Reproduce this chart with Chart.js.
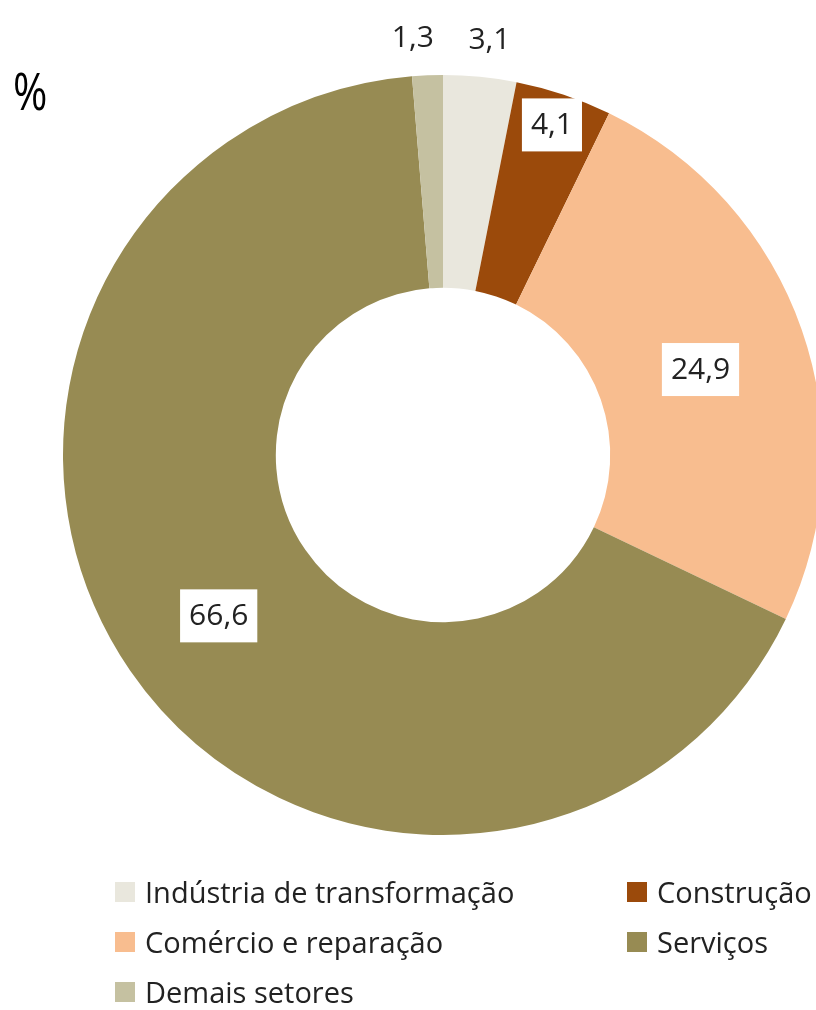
<!DOCTYPE html>
<html lang="pt">
<head>
    <meta charset="UTF-8">
    <title>Setores</title>
    <script src="https://cdn.jsdelivr.net/npm/chart.js"></script>
    <style>
        body {
            margin: 0;
            width: 816px;
            height: 1010px;
            overflow: hidden;
            position: relative;
            background: #ffffff;
            font-family: "Open Sans", "Noto Sans", sans-serif;
            color: #222;
        }

        #wrap {
            position: absolute;
            left: 0;
            top: 0;
            width: 886px;
            height: 910px;
        }

        #unit {
            position: absolute;
            left: 13px;
            top: 54px;
            font-size: 52px;
            font-weight: 400;
            color: #000;
            transform: scaleX(0.8);
            transform-origin: left top;
        }

        #legend {
            position: absolute;
            left: 115px;
            top: 874px;
            display: grid;
            grid-template-columns: 512px 220px;
            row-gap: 14px;
            font-size: 29px;
            line-height: 36px;
            color: #222;
        }

        .item {
            display: flex;
            align-items: center;
            white-space: nowrap;
        }

        .sw {
            width: 20px;
            height: 20px;
            margin-right: 10px;
        }
    </style>
</head>
<body>
    <div id="wrap"><canvas id="chart" width="886" height="910"></canvas></div>
    <div id="unit">%</div>
    <div id="legend"></div>

    <script>
        // dados
        const categorias = ['Indústria de transformação', 'Construção', 'Comércio e reparação', 'Serviços', 'Demais setores'];
        const valores = [3.1, 4.1, 24.9, 66.6, 1.3];
        const cores = ['#e9e7dd', '#9b4a0b', '#f8bd8f', '#978b53', '#c5c1a1'];

        // onde fica cada rótulo (fração do anel, ajuste de ângulo em graus, com caixa branca)
        const rotuloRaio = [1.18, 0.85, 0.49, 0.51, 1.18];
        const rotuloAng = [0.8, -0.3, 0.8, -1.0, -1.8];
        const rotuloCaixa = [false, true, true, true, false];

        const fmt = v => v.toFixed(1).replace('.', ',');

        const rotulos = {
            id: 'rotulos',
            afterDatasetsDraw(chart) {
                const ctx = chart.ctx;
                const meta = chart.getDatasetMeta(0);
                ctx.save();
                ctx.font = '30px "Open Sans", "Noto Sans", sans-serif';
                ctx.textAlign = 'center';
                ctx.textBaseline = 'middle';
                meta.data.forEach((arc, i) => {
                    const p = arc.getProps(['x', 'y', 'startAngle', 'endAngle', 'innerRadius', 'outerRadius'], true);
                    const mid = (p.startAngle + p.endAngle) / 2 + rotuloAng[i] * Math.PI / 180;
                    const r = p.innerRadius + rotuloRaio[i] * (p.outerRadius - p.innerRadius);
                    const x = p.x + Math.cos(mid) * r;
                    const y = p.y + Math.sin(mid) * r;
                    const txt = fmt(valores[i]);
                    if (rotuloCaixa[i]) {
                        const w = ctx.measureText(txt).width + 18;
                        ctx.fillStyle = '#ffffff';
                        ctx.fillRect(x - w / 2, y - 26, w, 53);
                    }
                    ctx.fillStyle = '#222';
                    ctx.fillText(txt, x, y + 1);
                });
                ctx.restore();
            }
        };

        new Chart(document.getElementById('chart'), {
            type: 'doughnut',
            data: {
                labels: categorias,
                datasets: [{
                    data: valores,
                    backgroundColor: cores,
                    borderWidth: 0
                }]
            },
            options: {
                responsive: false,
                animation: false,
                cutout: '44%',
                layout: { padding: { top: 75, bottom: 75, left: 63, right: 63 } },
                plugins: {
                    legend: { display: false },
                    tooltip: { enabled: false }
                }
            },
            plugins: [rotulos]
        });

        // legenda em duas colunas
        const leg = document.getElementById('legend');
        categorias.forEach((c, i) => {
            const d = document.createElement('div');
            d.className = 'item';
            d.innerHTML = '<span class="sw" style="background:' + cores[i] + '"></span>' + c;
            leg.appendChild(d);
        });
    </script>
</body>
</html>
